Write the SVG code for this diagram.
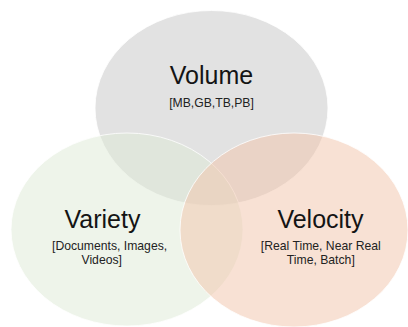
<svg xmlns="http://www.w3.org/2000/svg" width="408" height="327" viewBox="0 0 408 327">
  <style>
    .set { stroke: #ffffff; stroke-width: 1; stroke-opacity: 0.8; fill-opacity: 0.5; }
    .title { font-family: "Liberation Sans", Arial, sans-serif; font-size: 25px; fill: #141414; text-anchor: middle; }
    .sub { font-family: "Liberation Sans", Arial, sans-serif; font-size: 12.2px; fill: #222222; }
    .mid { text-anchor: middle; }
  </style>
  <rect width="408" height="327" fill="#ffffff"/>
  <g id="volume">
    <ellipse class="set" cx="211.5" cy="108" rx="116.5" ry="97.5" fill="#c6c6c6"/>
  </g>
  <g id="variety">
    <ellipse class="set" cx="127" cy="229.5" rx="116" ry="96.5" fill="#dde9d5"/>
  </g>
  <g id="velocity">
    <ellipse class="set" cx="294" cy="230" rx="114" ry="97" fill="#f1c3a9"/>
  </g>
  <g id="labels">
    <text class="title" x="211.5" y="84">Volume</text>
    <text class="sub mid" x="211.5" y="107">[MB,GB,TB,PB]</text>
    <text class="title" x="102.5" y="228.3">Variety</text>
    <!-- two-line captions kept in one text element -->
    <text class="sub"><tspan x="52" y="250">[Documents, Images,</tspan><tspan x="81.5" y="263.5">Videos]</tspan></text>
    <text class="title" x="320.5" y="228.3">Velocity</text>
    <text class="sub mid"><tspan x="320.8" y="250">[Real Time, Near Real</tspan><tspan x="320.8" y="263.5">Time, Batch]</tspan></text>
  </g>
</svg>
